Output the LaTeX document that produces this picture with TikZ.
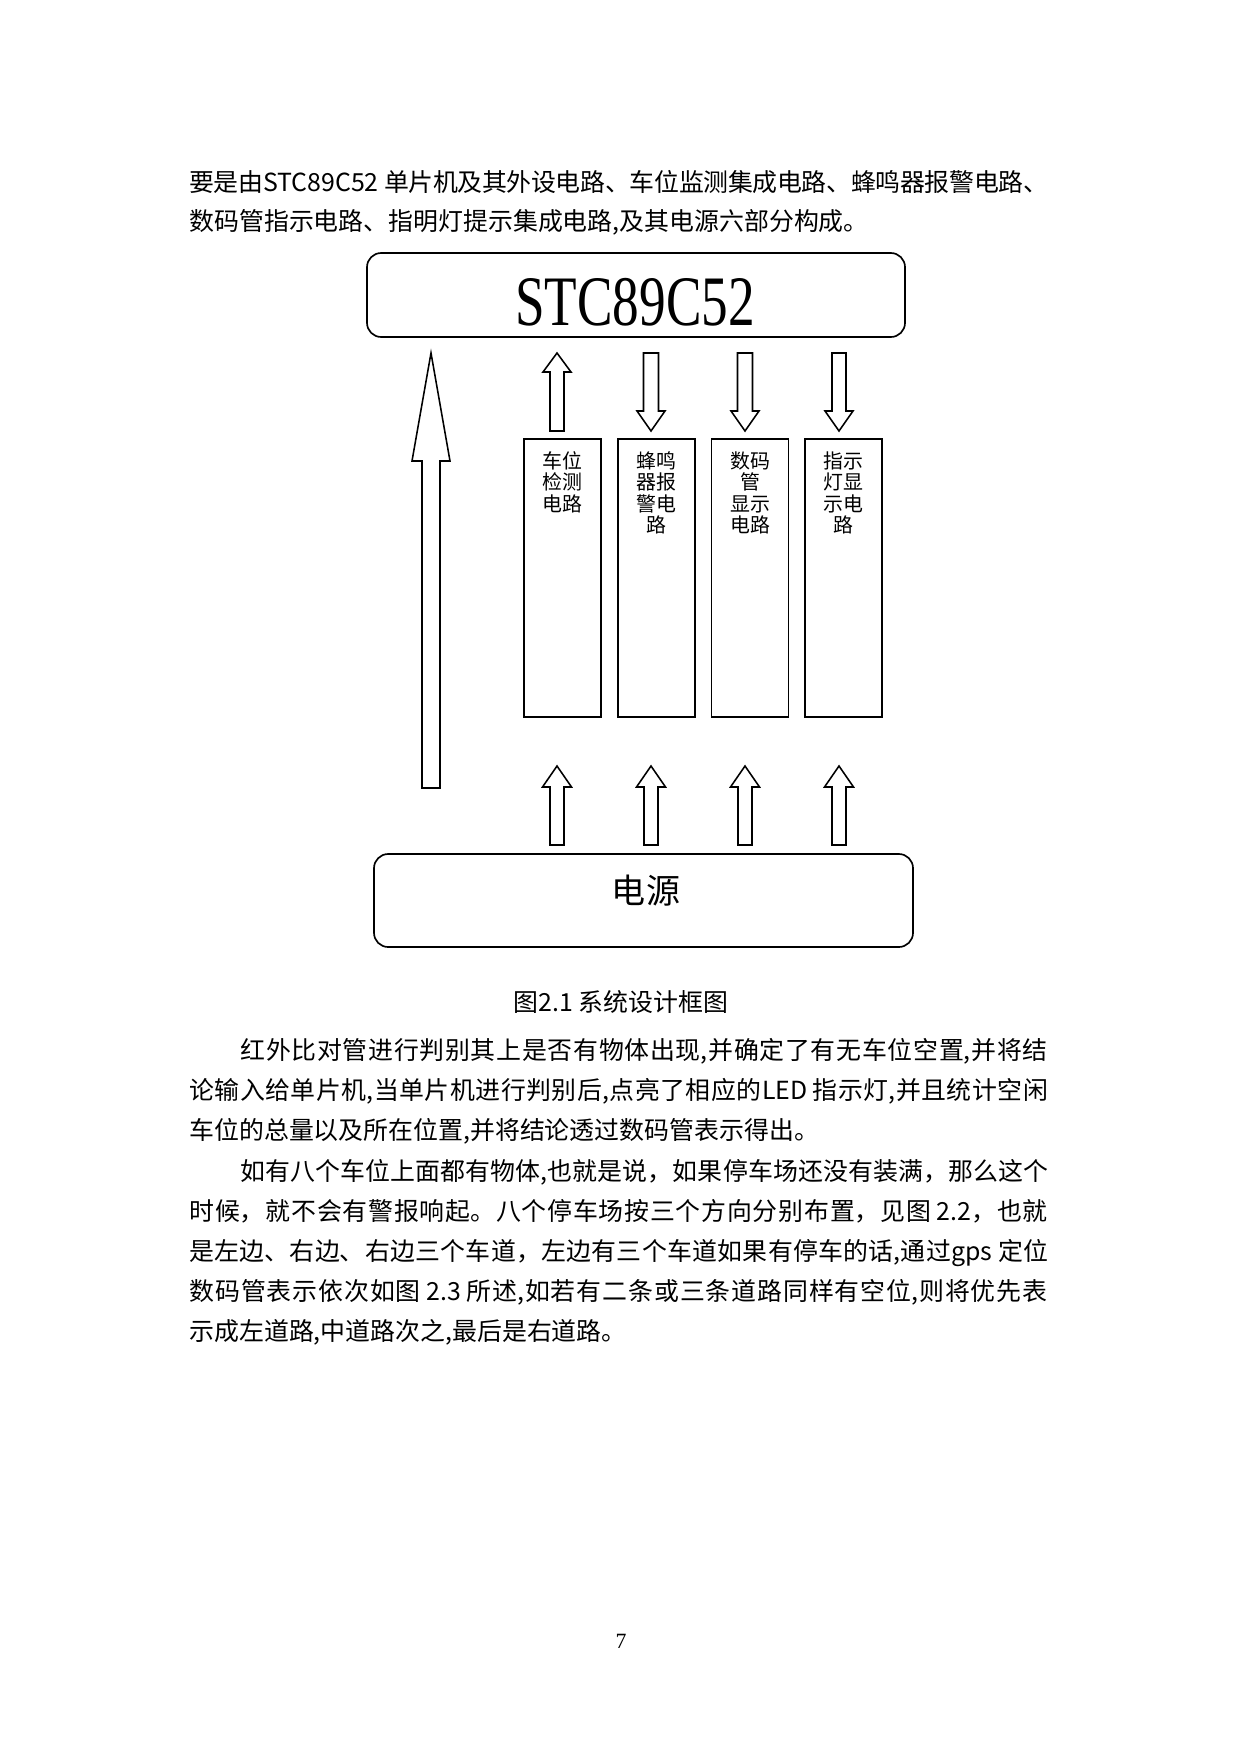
\documentclass[tikz,border=0pt]{standalone}
\usepackage{fontspec}
\setmainfont{Liberation Serif}
\newfontfamily\cjk{Noto Sans CJK SC}
\newcommand\bodyfont{\cjk\fontsize{12pt}{14pt}\selectfont}
\newcommand\jfy{\parfillskip=0pt\relax\XeTeXlinebreaklocale "zh"\XeTeXlinebreakskip=0pt plus 1fil minus 2pt\relax\linepenalty=1000\relax\tolerance=10000\relax\hbadness=10000\relax}
% block arrow pointing up: cx, ytip, yheadbase, ybottom, half shaft, half wing
\newcommand\blockup[6]{\draw[blockarrow] (#1,#2) -- (#1+#6,#3) -- (#1+#5,#3) -- (#1+#5,#4) -- (#1-#5,#4) -- (#1-#5,#3) -- (#1-#6,#3) -- cycle;}
% block arrow pointing down: cx, ytop, yheadstart, ytip, half shaft, half wing
\newcommand\blockdown[6]{\draw[blockarrow] (#1-#5,#2) -- (#1+#5,#2) -- (#1+#5,#3) -- (#1+#6,#3) -- (#1,#4) -- (#1-#6,#3) -- (#1-#5,#3) -- cycle;}
\begin{document}
\begin{tikzpicture}[x=0.16935mm, y=-0.16935mm,
  bigbox/.style={draw, line width=0.8pt, rounded corners=2.4mm, inner sep=0pt},
  unitbox/.style={draw, line width=0.8pt, inner sep=0pt, minimum width=77*0.16935mm, minimum height=278*0.16935mm},
  blockarrow/.style={draw, line width=0.75pt, fill=white, line join=miter},
  unitlabel/.style={anchor=base, inner sep=0pt, text width=60*0.16935mm, align=center, font=\cjk\fontsize{9.6pt}{10.26pt}\selectfont},
  fullline/.style={anchor=base west, inner sep=0pt, text width=#1*0.16935mm, align=justify, font=\bodyfont},
  lastline/.style={anchor=base west, inner sep=0pt, font=\bodyfont}]
\useasboundingbox (0,0) rectangle (1240,1754);

% body text above the figure
\node[fullline=859] (p1a) at (189,191) {\jfy 要是由STC89C52 单片机及其外设电路、车位监测集成电路、蜂鸣器报警电路、};
\node[lastline] (p1b) at (189,230) {数码管指示电路、指明灯提示集成电路,及其电源六部分构成。};

% main boxes
\node[bigbox, minimum width=538*0.16935mm, minimum height=84*0.16935mm] (stc) at (636,295) {};
\node[anchor=base, inner sep=0pt] (stclabel) at (635,325) {\scalebox{0.75}[1]{\fontsize{34.2pt}{36pt}\selectfont STC89C52}};

\node[bigbox, minimum width=539*0.16935mm, minimum height=93*0.16935mm] (power) at (643.5,900.5) {};
\node[anchor=base, inner sep=0pt] (powerlabel) at (646,903) {\cjk\fontsize{16.4pt}{18pt}\selectfont 电源};

% unit boxes
\node[unitbox] (u1) at (562.5,578) {};
\node[unitbox] (u2) at (656.5,578) {};
\node[unitbox] (u3) at (750,578) {};
\node[unitbox] (u4) at (843.5,578) {};
\node[unitlabel] (l1) at (562.5,468.6) {车位\\检测\\电路};
\node[unitlabel] (l2) at (656.5,468.6) {蜂鸣\\器报\\警电\\路};
\node[unitlabel] (l3) at (750,468.6) {数码\\管\\显示\\电路};
\node[unitlabel] (l4) at (843.5,468.6) {指示\\灯显\\示电\\路};

% big arrow power -> MCU
\blockup{431}{353}{461}{788}{9}{19}
% upper row
\blockup{557}{353}{372}{431}{7}{14}
\blockdown{651}{353}{411}{431}{7.5}{14}
\blockdown{745}{353}{411}{431}{7.5}{14}
\blockdown{839}{353}{411}{431}{7}{14}
% lower row
\blockup{557}{766}{787}{845}{7}{14.5}
\blockup{651}{766}{787}{845}{7}{14.5}
\blockup{745}{766}{787}{845}{7}{14.5}
\blockup{839}{766}{787}{845}{7}{14.5}

% caption
\node[anchor=base, inner sep=0pt, font=\bodyfont] (cap) at (621,1011.5) {图2.1 系统设计框图};

% paragraph 2
\node[fullline=808] (p2a) at (240,1059.5) {\jfy 红外比对管进行判别其上是否有物体出现,并确定了有无车位空置,并将结};
\node[fullline=859] (p2b) at (189,1099.5) {\jfy 论输入给单片机,当单片机进行判别后,点亮了相应的LED 指示灯,并且统计空闲};
\node[lastline] (p2c) at (189,1139.5) {车位的总量以及所在位置,并将结论透过数码管表示得出。};

% paragraph 3
\node[fullline=808] (p3a) at (240,1180.5) {\jfy 如有八个车位上面都有物体,也就是说，如果停车场还没有装满，那么这个};
\node[fullline=859] (p3b) at (189,1220.5) {\jfy 时候，就不会有警报响起。八个停车场按三个方向分别布置，见图 2.2，也就};
\node[fullline=859] (p3c) at (189,1260.5) {\jfy 是左边、右边、右边三个车道，左边有三个车道如果有停车的话,通过gps 定位};
\node[fullline=859] (p3d) at (189,1300.5) {\jfy 数码管表示依次如图 2.3 所述,如若有二条或三条道路同样有空位,则将优先表};
\node[lastline] (p3e) at (189,1340.5) {示成左道路,中道路次之,最后是右道路。};

% page number
\node[anchor=base, inner sep=0pt, font=\fontsize{10.5pt}{12pt}\selectfont] (pageno) at (621,1648) {7};
\end{tikzpicture}
\end{document}
